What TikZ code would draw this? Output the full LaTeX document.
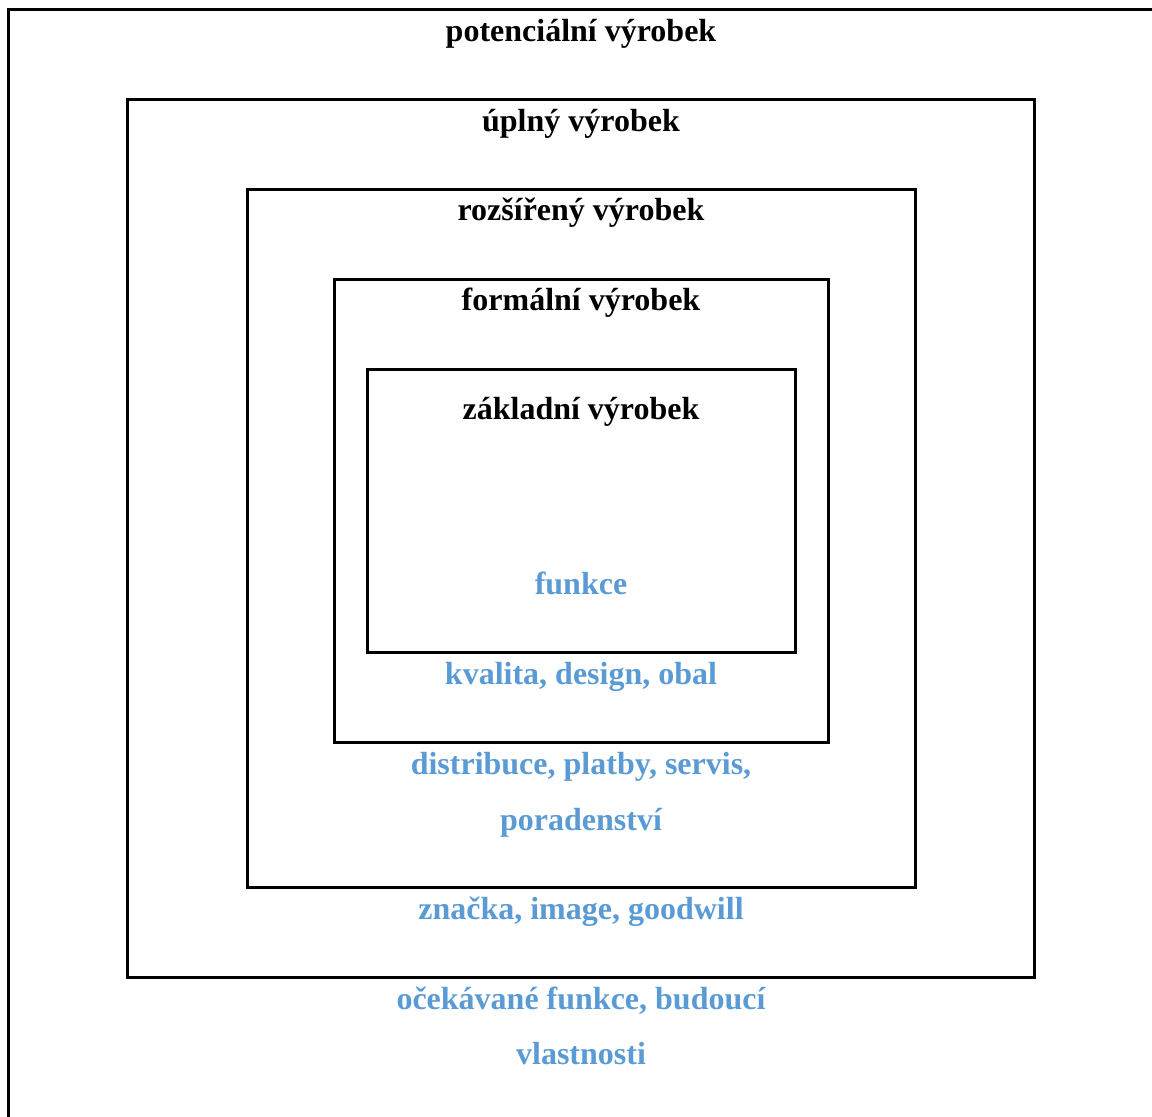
\documentclass[tikz,border=0pt]{standalone}
\usepackage{fontspec}
\setmainfont{Liberation Serif}
\usepackage{tikz}
\definecolor{svetlemodra}{RGB}{91,155,213}

\begin{document}
\begin{tikzpicture}[x=1pt, y=-1pt,
    vrstva/.style={draw=black, line width=3pt},
    nazev/.style={anchor=base, font=\fontsize{32}{36}\selectfont\bfseries},
    obsah/.style={nazev, text=svetlemodra}]
    \useasboundingbox (0,0) rectangle (1152,1117);
    \clip (0,0) rectangle (1152,1117);

    % Layers of the product (outer one runs off the page)
    \draw[vrstva] (8,9) rectangle (1180,1150);
    \draw[vrstva] (127,99) rectangle (1034,977);
    \draw[vrstva] (247,189) rectangle (915,887);
    \draw[vrstva] (334,279) rectangle (828,742);
    \draw[vrstva] (367,369) rectangle (795,652);

    % Names of the layers
    \node[nazev] (potencialni) at (581,41) {potenciální výrobek};
    \node[nazev] (uplny) at (581,131) {úplný výrobek};
    \node[nazev] (rozsireny) at (581,220) {rozšířený výrobek};
    \node[nazev] (formalni) at (581,310) {formální výrobek};
    \node[nazev] (zakladni) at (581,419) {základní výrobek};

    % What each layer adds
    \node[obsah] (funkce) at (581,594) {funkce};
    \node[obsah] (kvalita) at (581,684) {kvalita, design, obal};
    \node[obsah] (distribuce) at (581,774) {distribuce, platby, servis,};
    \node[obsah] (poradenstvi) at (581,830) {poradenství};
    \node[obsah] (znacka) at (581,919) {značka, image, goodwill};
    \node[obsah] (ocekavane) at (581,1009) {očekávané funkce, budoucí};
    \node[obsah] (vlastnosti) at (581,1064) {vlastnosti};
\end{tikzpicture}
\end{document}
